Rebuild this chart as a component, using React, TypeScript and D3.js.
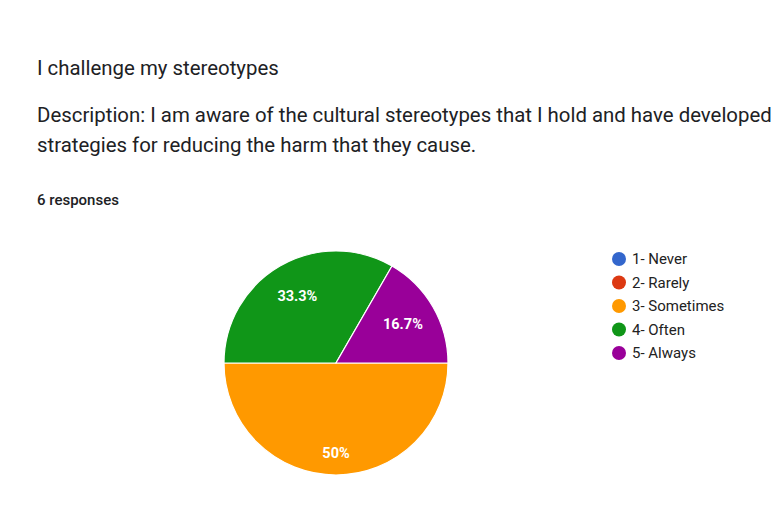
import React from "react";
import * as d3 from "d3";

const categories = ["1- Never", "2- Rarely", "3- Sometimes", "4- Often", "5- Always"];
const counts = [0, 0, 3, 2, 1];
const colors = ["#3366cc", "#dc3912", "#ff9900", "#109618", "#990099"];
const titleText = "I challenge my stereotypes";
const descLines = [
  "Description: I am aware of the cultural stereotypes that I hold and have developed",
  "strategies for reducing the harm that they cause.",
];
const responsesText = "6 responses";

export default function App() {
  const W = 781, H = 507;
  const cx = 336, cy = 363, r = 112;
  const total = d3.sum(counts);
  const data = categories.map((c, i) => ({ c, v: counts[i], color: colors[i] })).filter(d => d.v > 0);
  const pie = d3.pie<any>().value(d => d.v).sort(null).startAngle(Math.PI / 2).endAngle(Math.PI / 2 + 2 * Math.PI);
  const arcs = pie(data);
  const arc = d3.arc<any>().innerRadius(0).outerRadius(r);
  const fmt = (v: number) => {
    const p = (v / total) * 100;
    return (Math.round(p * 10) / 10).toString() + "%";
  };
  const legendY = d3.scaleLinear().domain([0, 4]).range([259, 353]);
  const font = "Roboto, Arial, sans-serif";
  return (
    <svg width={W} height={H} style={{ position: "absolute", left: 0, top: 0, background: "#fff" }}>
      <rect width={W} height={H} fill="#fff" />
      <text x={37} y={75} fontFamily={font} fontSize={20.4} fill="#202124">{titleText}</text>
      {descLines.map((l, i) => (
        <text key={i} x={37} y={122 + i * 30} fontFamily={font} fontSize={20.4} fill="#202124">{l}</text>
      ))}
      <text x={37} y={205} fontFamily={font} fontSize={15} fontWeight={500} fill="#202124">{responsesText}</text>
      <g transform={`translate(${cx},${cy})`}>
        {arcs.map((a, i) => (
          <path key={i} d={arc(a) as string} fill={a.data.color} stroke="#fff" strokeWidth={1.2} />
        ))}
        {arcs.map((a, i) => {
          const mid = (a.startAngle + a.endAngle) / 2;
          const rr = a.data.v / total >= 0.5 ? r * 0.8 : r * 0.69;
          const x = Math.sin(mid) * rr, y = -Math.cos(mid) * rr;
          return (
            <text key={"l" + i} x={x} y={y} dy="0.35em" textAnchor="middle" fontFamily={font} fontSize={14.5} fontWeight={700} fill="#fff">{fmt(a.data.v)}</text>
          );
        })}
      </g>
      {categories.map((c, i) => (
        <g key={c}>
          <circle cx={619} cy={legendY(i)} r={7} fill={colors[i]} />
          <text x={632} y={legendY(i)} dy="0.35em" fontFamily={font} fontSize={15} fill="#222">{c}</text>
        </g>
      ))}
    </svg>
  );
}
